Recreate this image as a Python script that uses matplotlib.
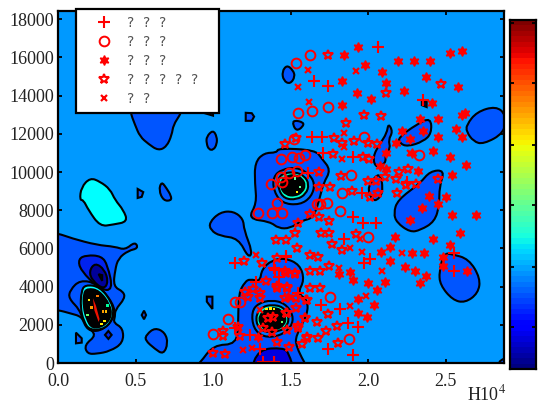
import matplotlib
matplotlib.use("Agg")
import matplotlib.pyplot as plt
from matplotlib.path import Path
from matplotlib.patches import PathPatch
import numpy as np

plt.rcParams['font.family'] = ['Liberation Serif', 'DejaVu Sans']
plt.rcParams['mathtext.fontset'] = 'stix'

xlimit = 2.877
ylimit = 18430
xtickvals = [0.0, 0.5, 1.0, 1.5, 2.0, 2.5]
xticklabs = ["0.0", "0.5", "1.0", "1.5", "2.0", "2.5"]
ytickvals = [0, 2000, 4000, 6000, 8000, 10000, 12000, 14000, 16000, 18000]
cbar_ticks = [7.7, 18.7, 30.1, 41.1, 52.4, 63.4]
legend_names = ["?  ?  ?", "?  ?  ?", "?  ?  ?", "?  ?  ?  ?  ?   ", "?  ?"]

# red points
plus_x = [2.067, 1.654, 1.744, 1.637, 1.706, 1.712, 1.906, 2.357, 1.615, 1.959, 2.250, 1.966, 2.052, 1.906, 1.845, 2.013, 1.974, 1.469, 1.394, 1.428, 2.555, 2.555, 1.695, 1.820, 1.873, 1.938, 1.744, 1.906, 1.394, 1.551, 1.142, 1.471, 1.400, 1.277, 1.303, 1.325, 1.393, 1.239, 1.142]
plus_y = [16529, 14766, 14522, 11852, 11852, 11015, 10770, 13772, 9933, 8921, 9497, 7313, 7313, 7663, 6476, 5429, 5254, 5568, 4958, 4487, 5743, 4836, 3038, 2829, 2113, 1904, 717, 421, 72, 3649, 5254, 5603, 4870, 4259, 717, 50, 71, 1467, 1816]

circle_x = [1.626, 1.536, 1.549, 1.639, 1.742, 1.523, 1.974, 2.331, 1.891, 1.830, 1.441, 1.507, 1.557, 1.593, 1.372, 1.436, 1.490, 1.540, 1.443, 1.415, 1.292, 1.378, 1.443, 1.673, 1.737, 1.998, 1.755, 1.878, 1.691, 1.820, 1.142, 1.099, 1.002, 1.174]
circle_y = [16128, 15726, 13109, 13214, 13423, 11748, 11852, 10893, 9863, 8886, 10664, 10803, 10716, 10891, 9355, 9756, 9966, 10071, 9495, 8395, 7872, 7872, 7872, 8308, 8360, 6615, 3475, 1258, 8308, 7977, 3212, 2287, 1502, 3212]

star6_x = [1.938, 1.848, 1.979, 2.093, 2.119, 1.835, 2.196, 2.299, 2.402, 2.531, 2.609, 2.377, 2.583, 2.235, 1.929, 2.020, 1.835, 2.415, 2.626, 2.605, 2.454, 2.338, 2.222, 2.355, 2.273, 2.454, 2.570, 2.609, 2.183, 2.119, 2.286, 2.420, 2.531, 2.635, 2.325, 2.544, 2.080, 2.119, 2.390, 2.506, 2.540, 2.695, 2.596, 2.420, 2.531, 2.286, 2.364, 2.484, 2.484, 2.639, 2.239, 2.303, 2.374, 2.336, 2.174, 2.142, 2.084, 2.144, 1.884, 1.906, 1.815, 2.002, 2.110, 2.056, 1.938, 2.041, 1.938, 1.992, 2.346, 2.271, 2.454, 1.292, 1.486]
star6_y = [16529, 16110, 15587, 15238, 14644, 14766, 15796, 15796, 15796, 16250, 16337, 14959, 14435, 14243, 14156, 13842, 13493, 13632, 13074, 12969, 12777, 12777, 12166, 12166, 11713, 11818, 12236, 11818, 11503, 10980, 11015, 11085, 10770, 10352, 10038, 9828, 10317, 10142, 8746, 8712, 7750, 7750, 6825, 6493, 6179, 5778, 5778, 5534, 5080, 4836, 5045, 4836, 4574, 4173, 6615, 6092, 5795, 5359, 4783, 4347, 4661, 4173, 4225, 3823, 3352, 3038, 2602, 2428, 8099, 7488, 8326, 1380, 3474]

star5_x = [1.744, 1.974, 2.086, 1.858, 1.781, 1.465, 1.536, 1.832, 1.910, 2.000, 2.056, 1.772, 1.966, 2.005, 1.682, 1.824, 2.000, 2.052, 2.110, 2.181, 2.202, 2.258, 2.245, 2.308, 2.454, 2.185, 1.895, 1.682, 1.755, 2.013, 2.067, 2.471, 2.114, 1.626, 1.680, 1.626, 1.691, 1.751, 1.626, 1.691, 1.770, 1.830, 1.923, 1.695, 1.751, 1.626, 1.686, 1.751, 1.551, 1.529, 1.407, 1.469, 1.540, 1.465, 1.529, 1.480, 1.411, 1.600, 1.536, 1.465, 1.744, 1.669, 1.729, 1.802, 1.680, 1.809, 1.609, 1.551, 1.594, 1.476, 1.415, 1.493, 1.572, 1.200, 1.314, 1.411, 1.067, 1.067, 0.998, 1.077, 1.415, 1.342, 1.471, 1.529, 1.479, 1.206, 1.303, 1.535, 1.604, 1.471, 1.593, 1.550, 1.604, 1.479, 1.163, 1.174, 1.389, 1.357, 1.378, 1.325, 1.260, 1.303, 1.228]
star5_y = [16128, 12987, 12934, 12585, 11800, 11469, 11766, 11503, 11625, 11538, 11469, 10945, 10770, 10701, 10003, 9793, 9549, 9549, 9758, 9619, 10003, 10177, 9322, 9374, 9654, 8921, 9026, 9200, 9200, 8712, 8921, 14609, 14121, 5656, 5568, 4818, 4818, 5097, 3911, 3911, 6232, 5918, 6738, 6825, 6825, 7802, 7663, 7453, 7313, 6790, 6441, 6441, 6040, 4818, 4661, 3911, 3911, 3300, 3422, 3422, 2550, 2166, 1677, 1939, 1293, 1031, 1380, 1939, 2340, 2602, 1118, 857, 997, 5359, 5254, 5481, 1677, 1415, 542, 473, 4032, 4312, 4695, 4695, 3963, 3736, 3387, 2863, 3300, 2602, 2340, 1816, 1293, 1728, 1903, 1415, 2427, 2340, 1642, 1816, 3858, 3649, 3474]

cross_x = [1.615, 1.551, 1.923, 1.622, 1.845, 1.845, 1.832, 2.271, 1.884, 1.987, 1.884, 1.964, 2.093, 2.222, 1.815, 1.949, 1.277, 1.196, 1.249, 1.169, 1.303]
cross_y = [15342, 14435, 15290, 13685, 12062, 11294, 10666, 11015, 3003, 3527, 6005, 5830, 4818, 5743, 4958, 6493, 5655, 682, 770, 1816, 2776]

# contour regions: x list, y list
top_x = [0.465, 0.497, 0.529, 0.583, 0.647, 0.701, 0.734, 0.744, 0.787, 0.798, 0.798, 0.465]
top_y = [13161, 12463, 11852, 11469, 11120, 11329, 11940, 12463, 12987, 13248, 14000, 14000]
nub_x = [0.938, 1.000, 1.000, 0.938]
nub_y = [13300, 13300, 12950, 13100]
dee_x = [1.211, 1.211, 1.250, 1.265, 1.250]
dee_y = [13100, 12680, 12680, 12900, 13080]
blob1_x = [1.000, 1.025, 1.025, 1.003, 0.972, 0.958, 0.958]
blob1_y = [12200, 11853, 11469, 11150, 11180, 11503, 11853]
cyan_x = [0.140, 0.150, 0.207, 0.271, 0.336, 0.368, 0.422, 0.450, 0.357, 0.271, 0.196, 0.164]
cyan_y = [8537, 9200, 9700, 9500, 9100, 8537, 8011, 7400, 7250, 7150, 8011, 8535]
tri1_x = [0.514, 0.550, 0.540, 0.514]
tri1_y = [9113, 8950, 8700, 8640]
oval1_x = [0.668, 0.650, 0.680, 0.730, 0.730, 0.700]
oval1_y = [9500, 9050, 8500, 8500, 8750, 9150]
left_x = [-0.15, 0.0, 0.088, 0.250, 0.368, 0.432, 0.497, 0.518, 0.454, 0.389, 0.368, 0.357, 0.422, 0.432, 0.368, 0.368, 0.357, 0.420, 0.420, 0.336, 0.250, 0.189, 0.170, 0.250, 0.185, 0.153, 0.078, 0.0, -0.15]
left_y = [6950, 6790, 6528, 6179, 6092, 5918, 6350, 6005, 5883, 5481, 4871, 4000, 3736, 3387, 2776, 2428, 2113, 1817, 1050, 620, 480, 480, 944, 1468, 1904, 2428, 2602, 2776, 2900]
ring_a_x = [0.130, 0.185, 0.280, 0.320, 0.355, 0.271, 0.145]
ring_a_y = [5450, 5650, 5600, 5132, 3800, 3850, 4850]
ring_b_x = [0.200, 0.239, 0.300, 0.325, 0.295, 0.222]
ring_b_y = [4800, 5250, 4900, 4250, 3850, 4300]
ring_c_x = [0.262, 0.285, 0.285]
ring_c_y = [4650, 4600, 4300]
core1_a_x = [0.078, 0.142, 0.250, 0.357, 0.368, 0.293, 0.207, 0.164, 0.142, 0.068]
core1_a_y = [3824, 4347, 4172, 3125, 2428, 1730, 1642, 2079, 2777, 3387]
core1_b_x = [0.150, 0.175, 0.270, 0.350, 0.360, 0.310, 0.205, 0.165, 0.145]
core1_b_y = [3750, 4100, 4000, 3150, 2450, 1800, 1700, 2200, 2900]
core1_c_x = [0.165, 0.190, 0.265, 0.335, 0.345, 0.300, 0.220, 0.185, 0.165]
core1_c_y = [3650, 3900, 3800, 3050, 2450, 1950, 1800, 2300, 2900]
streak1_x = [0.225, 0.245, 0.268, 0.262, 0.235]
streak1_y = [3400, 3000, 2300, 2150, 2750]
small1_x = [0.116, 0.116, 0.153, 0.153]
small1_y = [1590, 1030, 1066, 1293]
small2_x = [0.325, 0.303, 0.325, 0.346]
small2_y = [1677, 1470, 1260, 1470]
small3_x = [0.555, 0.540, 0.555, 0.568]
small3_y = [2740, 2510, 2290, 2510]
small4_x = [0.960, 0.996, 0.996, 0.960]
small4_y = [3474, 3474, 2829, 3213]
blob2_x = [0.572, 0.626, 0.690, 0.710, 0.680, 0.626, 0.560]
blob2_y = [1500, 1850, 1600, 1032, 450, 730, 1206]
blob3_x = [0.975, 1.045, 1.131, 1.195, 1.200, 1.255, 1.228, 1.164, 1.045, 0.985]
blob3_y = [7350, 7900, 7950, 7550, 6964, 5800, 5500, 6528, 6650, 6950]
big_x = [0.83, 0.916, 1.002, 1.153, 1.163, 1.165, 1.206, 1.239, 1.303, 1.314, 1.378, 1.464, 1.560, 1.590, 1.545, 1.610, 1.610, 1.540, 1.530, 1.640]
big_y = [-700, 0, 944, 979, 2165, 3649, 4250, 4400, 4259, 4900, 5380, 5500, 5150, 4347, 3650, 3300, 2550, 1550, 900, -700]
floor_x = [1.240, 1.292, 1.454, 1.490, 1.525]
floor_y = [-500, 720, 800, 508, -500]
core2_a_x = [1.249, 1.292, 1.378, 1.464, 1.518, 1.507, 1.432, 1.325, 1.260]
core2_a_y = [2689, 3125, 3300, 3125, 2514, 1903, 1415, 1345, 1816]
core2_b_x = [1.280, 1.320, 1.380, 1.450, 1.490, 1.480, 1.430, 1.330, 1.280]
core2_b_y = [2600, 2950, 3050, 2950, 2450, 1950, 1650, 1600, 2000]
core2_c_x = [1.300, 1.340, 1.380, 1.440, 1.470, 1.460, 1.410, 1.340, 1.300]
core2_c_y = [2500, 2800, 2900, 2800, 2400, 2000, 1750, 1700, 2100]
upper_x = [1.270, 1.329, 1.411, 1.421, 1.660, 1.700, 1.760, 1.712, 1.691, 1.650, 1.572, 1.497, 1.422, 1.368, 1.225, 1.282, 1.270]
upper_y = [10500, 11000, 11013, 11250, 11150, 10718, 10108, 9410, 8711, 7600, 7450, 7050, 7050, 7401, 7550, 8360, 9407]
core3_a_x = [1.389, 1.443, 1.540, 1.615, 1.658, 1.636, 1.561, 1.443, 1.389]
core3_a_y = [9756, 10140, 10245, 9931, 9407, 8710, 8273, 8361, 9058]
core3_b_x = [1.420, 1.460, 1.530, 1.590, 1.620, 1.600, 1.540, 1.460, 1.420]
core3_b_y = [9700, 9950, 10000, 9800, 9350, 8850, 8550, 8600, 9100]
core3_c_x = [1.445, 1.480, 1.530, 1.575, 1.595, 1.575, 1.530, 1.470, 1.435]
core3_c_y = [9600, 9800, 9850, 9650, 9300, 8950, 8750, 8800, 9200]
t1_x = [1.476, 1.515, 1.530, 1.497, 1.455, 1.445]
t1_y = [15600, 15342, 14994, 14600, 14780, 15255]
t2_x = [1.520, 1.585, 1.580, 1.540, 1.515]
t2_y = [12720, 12600, 12376, 12150, 12463]
t3_x = [2.347, 2.378, 2.378, 2.347]
t3_y = [13685, 13685, 13400, 13500]
w_x = [2.131, 2.160, 2.131, 2.145, 2.110, 2.115, 2.050, 2.030, 2.078, 2.121]
w_y = [12550, 12114, 11678, 11242, 10893, 10457, 10200, 10805, 11503, 12027]
v_x = [2.195, 2.314, 2.405, 2.410, 2.357, 2.255, 2.205]
v_y = [11800, 12500, 12850, 12027, 11600, 11330, 11500]
y_x = [2.635, 2.701, 2.825, 2.890, 2.880, 2.744, 2.680, 2.635]
y_y = [12463, 13150, 13450, 13000, 12050, 11450, 11600, 12114]
z_x = [2.005, 2.078, 2.100, 2.040, 2.005]
z_y = [9322, 10050, 8886, 8400, 8900]
aa_x = [2.165, 2.190, 2.336, 2.400, 2.495, 2.460, 2.460, 2.430, 2.336, 2.271, 2.185]
aa_y = [7837, 8535, 9409, 10050, 10100, 9235, 8273, 7400, 6950, 6850, 7350]
bb_x = [2.458, 2.490, 2.540, 2.650, 2.725, 2.710, 2.626, 2.545, 2.465]
bb_y = [4783, 5750, 5700, 5450, 4434, 3650, 3150, 3300, 4085]
corner_x = [2.95, 2.845, 2.845, 2.95]
corner_y = [420, 150, -200, -200]

# specks inside the dense rings
speck_x = [0.200, 0.215, 0.290, 0.310, 0.300, 0.255, 0.190, 0.280, 0.320, 1.345, 1.370, 1.395, 1.445, 1.530, 1.560, 1.540]
speck_y = [3300, 2900, 2700, 2700, 2200, 3500, 2500, 2050, 3000, 2830, 2860, 2830, 2150, 9650, 9200, 8950]
speck_col = ["#ffee00", "#ff9900", "#ff9900", "#ffbb00", "#ffee00", "#ff7700", "#66ff66", "#ffee00", "#00ff99", "#ffee00", "#ffee00", "#ffee00", "#66ff66", "#66ff99", "#66ff99", "#ffee00"]

bg = "#0099ff"
mid = "#0055ff"
deep = "#0022ee"
navy = "#000099"

fig = plt.figure(figsize=(5.39, 4.04), dpi=100)
ax = fig.add_axes([58/539, 1-363/404, (504-58)/539, (363-11)/404])
ax.set_facecolor(bg)


def blob(rx, ry, col, lw=1.5):
    # rounded closed outline through the midpoints of the read-off points
    pts = np.column_stack([rx, ry])
    mids = (pts + np.roll(pts, -1, axis=0)) / 2
    verts = [mids[-1]]
    codes = [Path.MOVETO]
    for p, m in zip(pts, mids):
        verts += [p, m]
        codes += [Path.CURVE3, Path.CURVE3]
    ax.add_patch(PathPatch(Path(verts, codes), facecolor=col, edgecolor="k", linewidth=lw, zorder=2))


smooth_regions = [
    (top_x, top_y, mid), (blob1_x, blob1_y, mid), (cyan_x, cyan_y, "#00ffff"), (oval1_x, oval1_y, mid),
    (left_x, left_y, mid), (ring_a_x, ring_a_y, deep), (ring_b_x, ring_b_y, navy),
    (core1_a_x, core1_a_y, mid), (core1_b_x, core1_b_y, "#00ffff"), (core1_c_x, core1_c_y, "#000000"),
    (blob2_x, blob2_y, mid), (blob3_x, blob3_y, mid), (big_x, big_y, mid), (floor_x, floor_y, "#0000e0"),
    (core2_a_x, core2_a_y, "#0077ff"), (core2_b_x, core2_b_y, "#00ffcc"), (core2_c_x, core2_c_y, "#000000"),
    (upper_x, upper_y, mid),
    (core3_a_x, core3_a_y, "#0077ff"), (core3_b_x, core3_b_y, "#00ffcc"), (core3_c_x, core3_c_y, "#000000"),
    (t1_x, t1_y, mid), (t2_x, t2_y, mid), (w_x, w_y, mid), (v_x, v_y, mid),
    (y_x, y_y, mid), (z_x, z_y, mid), (aa_x, aa_y, mid), (bb_x, bb_y, mid), (corner_x, corner_y, mid),
]
for rx, ry, col in smooth_regions:
    blob(rx, ry, col)

sharp_regions = [
    (nub_x, nub_y, mid), (dee_x, dee_y, mid), (tri1_x, tri1_y, mid), (ring_c_x, ring_c_y, "#000044"),
    (small1_x, small1_y, mid), (small2_x, small2_y, deep), (small3_x, small3_y, mid), (small4_x, small4_y, mid),
    (t3_x, t3_y, "#000044"),
]
for rx, ry, col in sharp_regions:
    ax.fill(rx, ry, facecolor=col, edgecolor="k", linewidth=1.5, zorder=2)
ax.fill(streak1_x, streak1_y, facecolor="#ee1100", edgecolor="none", zorder=3)
ax.scatter(speck_x, speck_y, c=speck_col, s=3, marker="s", linewidths=0, zorder=3)

red = "#ff0000"
kw = dict(linestyle="none", color=red, zorder=4)
h1, = ax.plot(plus_x, plus_y, marker="+", markersize=8.5, markeredgewidth=1.5, label=legend_names[0], **kw)
h2, = ax.plot(circle_x, circle_y, marker="o", markersize=7, markerfacecolor="none", markeredgewidth=1.4, label=legend_names[1], **kw)
h3, = ax.plot(star6_x, star6_y, marker=(6, 1, 0), markersize=7, markeredgewidth=1.0, label=legend_names[2], **kw)
h4, = ax.plot(star5_x, star5_y, marker="*", markersize=7.5, markerfacecolor="none", markeredgewidth=1.5, label=legend_names[3], **kw)
h5, = ax.plot(cross_x, cross_y, marker="x", markersize=4.5, markeredgewidth=1.6, label=legend_names[4], **kw)

ax.set_xlim(0, xlimit)
ax.set_ylim(0, ylimit)
ax.set_xticks(xtickvals)
ax.set_xticklabels(xticklabs)
ax.set_yticks(ytickvals)
ax.tick_params(direction="in", top=True, right=True, length=3, width=1.3, labelsize=13, colors="k", labelcolor="#222222")
ax.tick_params(axis="x", pad=7)
ax.tick_params(axis="y", pad=3)
for s in ax.spines.values():
    s.set_linewidth(1.6)
    s.set_zorder(6)

leg = ax.legend(handles=[h1, h2, h3, h4, h5], loc="upper left", bbox_to_anchor=(18/446, 1.0057), borderaxespad=0,
                frameon=True, fancybox=False, framealpha=1, edgecolor="k", borderpad=0.5, labelspacing=0.36,
                handlelength=3.0, handletextpad=0.2, numpoints=1,
                prop={"family": "DejaVu Sans", "size": 10})
leg.get_frame().set_linewidth(1.6)
leg.set_zorder(7)
for t in leg.get_texts():
    t.set_color("#555555")

ax.text(1.005, -0.105, "H10$^{4}$", transform=ax.transAxes, ha="right", va="baseline", fontsize=13, color="#222222")

# colorbar on the right
cax = fig.add_axes([510/539, 1-369/404, 26/539, (369-20)/404])
levels = np.arange(64)[:, None]
cax.imshow(levels, cmap=plt.get_cmap("jet", 64), origin="lower", aspect="auto", extent=[0, 1, 0, 64])
cax.set_xticks([])
cax.set_yticks(cbar_ticks)
cax.set_yticklabels([])
cax.tick_params(direction="in", left=True, right=True, length=3, width=1.3)
for s in cax.spines.values():
    s.set_linewidth(1.6)

fig.savefig("out.png", dpi=100)
